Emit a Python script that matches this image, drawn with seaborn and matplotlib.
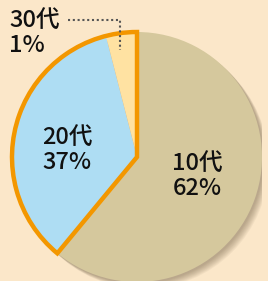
import numpy as np
import seaborn as sns
import matplotlib.pyplot as plt
from matplotlib.patches import Circle

# ---- data ----
ages = ["10代", "20代", "30代"]
shares = [61, 35, 4]            # wedge sizes as drawn
share_labels = ["62%", "37%", "1%"]
colors = ["#D5C89D", "#AEDDF3", "#FFE2A2"]
EDGE = "#F39700"
BG = "#FBE7C9"

sns.set_theme(style="white")
plt.rcParams["font.family"] = ["Noto Sans CJK JP", "DejaVu Sans"]

fig = plt.figure(figsize=(2.68, 2.81), dpi=100)
fig.patch.set_facecolor(BG)

W, H = 268, 281
cx, cy, r = 137, 157, 125
ax = fig.add_axes([(cx - r) / W, (H - cy - r) / H, 2 * r / W, 2 * r / H])
ax.set_xlim(-1, 1)
ax.set_ylim(-1, 1)
ax.set_aspect("equal")
ax.axis("off")

# soft shadow at bottom-right
for k in range(8):
    off = 0.012 + k * 0.006
    ax.add_patch(Circle((off, -off), 1.0, color="#5a4a30", alpha=0.06, lw=0, zorder=0))

ax.pie(shares, colors=colors, startangle=90, counterclock=False, radius=1.0,
       wedgeprops=dict(linewidth=0), normalize=True)

# orange outline around the 20s + 30s group
group = [shares[0], sum(shares[1:])]
wedges, _ = ax.pie(group, startangle=90, counterclock=False, radius=1.0,
                   wedgeprops=dict(linewidth=3.2, fill=False))
wedges[0].set_edgecolor("none")
wedges[1].set_edgecolor(EDGE)
wedges[1].set_joinstyle("miter")
ax.set_xlim(-1, 1)
ax.set_ylim(-1, 1)

fs = 17
txt = dict(fontsize=fs, linespacing=1.15, color="#111111", fontweight="medium")
fig.text(197 / W, 1 - 176 / H, f"{ages[0]}\n{share_labels[0]}", ha="center", va="center", **txt)
fig.text(67 / W, 1 - 150 / H, f"{ages[1]}\n{share_labels[1]}", ha="center", va="center", **txt)
fig.text(9 / W, 1 - 33 / H, f"{ages[2]}\n{share_labels[2]}", ha="left", va="center", **txt)

# dotted leader line for 30代
fig.add_artist(plt.Line2D([68 / W, 120 / W, 120 / W], [1 - 20 / H, 1 - 20 / H, 1 - 50 / H],
                          transform=fig.transFigure, color="#555555", lw=1.5,
                          linestyle=(0, (1, 1.3)), zorder=5))

fig.savefig("out.png", dpi=100, facecolor=BG)
